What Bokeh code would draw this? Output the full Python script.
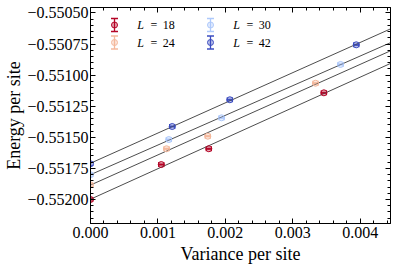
import numpy as np
from bokeh.plotting import figure
from bokeh.models import (Range1d, LinearAxis, SingleIntervalTicker, CustomJSTickFormatter,
                          ColumnDataSource, Whisker, TeeHead)
from bokeh.core.properties import value
from bokeh.embed import file_html
from bokeh.resources import INLINE

# ---- data ----
L_sizes = [18, 24, 30, 42]
colors = ["#b40426", "#f4b89c", "#aec9fb", "#3b4cc0"]

var_L18 = [0.0, 0.001050, 0.001755, 0.003462]
E_L18 = [-0.552000, -0.551719, -0.551592, -0.551142]
var_L24 = [0.0, 0.001128, 0.001740, 0.003338]
E_L24 = [-0.551882, -0.551592, -0.551491, -0.551065]
var_L30 = [0.0, 0.001162, 0.001944, 0.003709]
E_L30 = [-0.551801, -0.551518, -0.551343, -0.550914]
var_L42 = [0.0, 0.001212, 0.002067, 0.003942]
E_L42 = [-0.551713, -0.551413, -0.551198, -0.550756]

E_err = [0.000012, 0.000004, 0.000004, 0.000004]
var_err = [0.0, 0.00004, 0.00004, 0.00004]

series_var = [var_L18, var_L24, var_L30, var_L42]
series_E = [E_L18, E_L24, E_L30, E_L42]

x_ticks_step = 0.001
y_ticks_step = 0.00025
x_label = "Variance per site"
y_label = "Energy per site"

FONT = "Liberation Serif"

W, H = 396, 266
ML, MR, MT, MB = 90, 6, 7, 43
FW, FH = W - ML - MR, H - MT - MB

p = figure(width=W, height=H, output_backend="svg", toolbar_location=None,
           x_range=Range1d(0.0, 0.00445), y_range=Range1d(-0.552193, -0.550456),
           min_border_left=ML, min_border_right=MR, min_border_top=MT, min_border_bottom=MB,
           x_axis_label=x_label, y_axis_label=y_label)
p.grid.visible = False
p.outline_line_color = "black"
p.outline_line_width = 1
p.background_fill_color = "white"
p.border_fill_color = "white"

xt = SingleIntervalTicker(interval=x_ticks_step, num_minor_ticks=5)
yt = SingleIntervalTicker(interval=y_ticks_step, num_minor_ticks=5)
p.xaxis.ticker = xt
p.yaxis.ticker = yt
p.xaxis.formatter = CustomJSTickFormatter(code="return tick.toFixed(3).replace('-', '\u2212');")
p.yaxis.formatter = CustomJSTickFormatter(code="return tick.toFixed(5).replace('-', '\u2212');")


def style_axis(ax, labels=True):
    ax.major_tick_in = 5
    ax.major_tick_out = 0
    ax.minor_tick_in = 3
    ax.minor_tick_out = 0
    ax.axis_line_color = "black"
    ax.major_tick_line_color = "black"
    ax.minor_tick_line_color = "black"
    ax.major_label_text_font = FONT
    ax.major_label_text_color = "black"
    ax.axis_label_text_font = FONT
    ax.axis_label_text_font_style = "normal"
    ax.axis_label_text_color = "black"
    if labels:
        ax.major_label_text_font_size = "16px"
        ax.axis_label_text_font_size = "18px"
        ax.major_label_standoff = 2
        ax.axis_label_standoff = 1
    else:
        ax.major_label_text_font_size = "0px"
        ax.major_label_standoff = 0
        ax.axis_label = None


for ax in p.xaxis + p.yaxis:
    style_axis(ax)
p.yaxis.axis_label_standoff = 0
p.xaxis.major_label_standoff = 3
p.xaxis.axis_label_standoff = 3

top_ax = LinearAxis(ticker=xt, formatter=CustomJSTickFormatter(code="return '';"))
right_ax = LinearAxis(ticker=yt, formatter=CustomJSTickFormatter(code="return '';"))
style_axis(top_ax, labels=False)
style_axis(right_ax, labels=False)
p.add_layout(top_ax, "above")
p.add_layout(right_ax, "right")

# ---- fit lines, error bars, markers ----
x_line = np.array([0.0, 0.0047])
for vs, Es, c in zip(series_var, series_E, colors):
    slope, icpt = np.polyfit(np.array(vs), np.array(Es), 1)
    p.line(x_line, icpt + slope * x_line, line_color="#4d4d4d", line_width=1)

for vs, Es, c in zip(series_var, series_E, colors):
    vs = np.array(vs)
    Es = np.array(Es)
    src = ColumnDataSource(dict(x=vs, y=Es,
                                ylo=Es - np.array(E_err), yhi=Es + np.array(E_err),
                                xlo=vs - np.array(var_err), xhi=vs + np.array(var_err)))
    p.add_layout(Whisker(source=src, base="y", lower="xlo", upper="xhi", dimension="width",
                         line_color=c, line_width=1,
                         upper_head=TeeHead(size=5, line_color=c, line_width=1),
                         lower_head=TeeHead(size=5, line_color=c, line_width=1)))
    p.add_layout(Whisker(source=src, base="x", lower="ylo", upper="yhi", dimension="height",
                         line_color=c, line_width=1,
                         upper_head=TeeHead(size=6, line_color=c, line_width=1),
                         lower_head=TeeHead(size=6, line_color=c, line_width=1)))
    p.scatter("x", "y", source=src, marker="circle", size=6, fill_color=c, fill_alpha=0.35,
              line_color=c, line_width=1)

# ---- legend drawn in frame-pixel coordinates (y measured from the frame top) ----
p.extra_x_ranges = {"lg": Range1d(0, FW)}
p.extra_y_ranges = {"lg": Range1d(FH, 0)}
lg_x = np.array([24.0, 24.0, 120.0, 120.0])
lg_y = np.array([17.5, 35.0, 17.5, 35.0])
for i, c in enumerate(colors):
    x0, y0 = lg_x[i], lg_y[i]
    p.segment(x0=[x0], y0=[y0 - 6.5], x1=[x0], y1=[y0 + 6.5], line_color=c, line_width=1.3,
              x_range_name="lg", y_range_name="lg")
    p.segment(x0=[x0 - 3.5, x0 - 3.5], y0=[y0 - 6.5, y0 + 6.5], x1=[x0 + 3.5, x0 + 3.5],
              y1=[y0 - 6.5, y0 + 6.5], line_color=c, line_width=1.3,
              x_range_name="lg", y_range_name="lg")
    p.scatter([x0], [y0], marker="circle", size=6, fill_color=c, fill_alpha=0.35,
              line_color=c, line_width=1, x_range_name="lg", y_range_name="lg")

p.text(x=lg_x + 22.7, y=lg_y, text=["L"] * 4, text_font=value(FONT), text_font_style="italic",
       text_font_size="12px", text_baseline="middle", text_color="black",
       x_range_name="lg", y_range_name="lg")
p.text(x=lg_x + 36.0, y=lg_y, text=["="] * 4, text_font=value(FONT),
       text_font_size="12px", text_baseline="middle", text_color="black",
       x_range_name="lg", y_range_name="lg")
p.text(x=lg_x + 48.3, y=lg_y, text=[str(v) for v in L_sizes], text_font=value(FONT),
       text_font_size="12px", text_baseline="middle", text_color="black",
       x_range_name="lg", y_range_name="lg")

open("out.html", "w").write(file_html(p, INLINE))
